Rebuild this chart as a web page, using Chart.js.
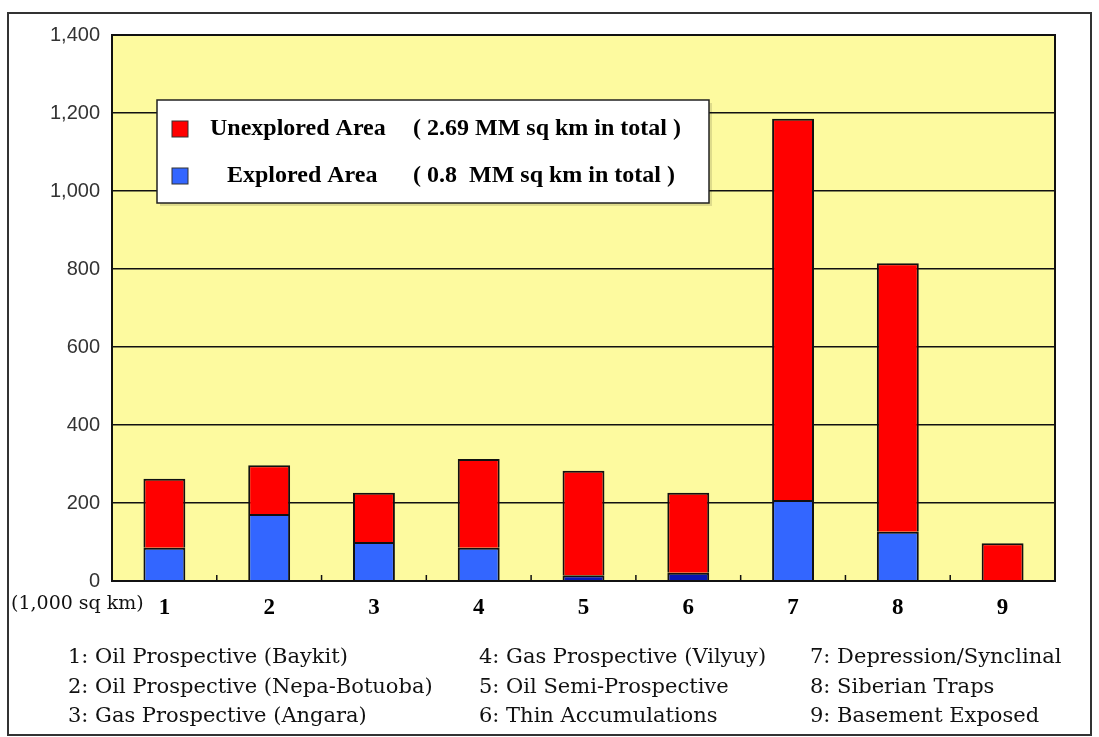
<!DOCTYPE html>
<html>
<head>
<meta charset="utf-8">
<script src="https://cdn.jsdelivr.net/npm/chart.js@4.4.1/dist/chart.umd.min.js"></script>
<style>
    html, body { margin: 0; padding: 0; background: #fff; }
    #wrap { position: relative; width: 1099px; height: 737px; }
    #frame { position: absolute; left: 7px; top: 12px; width: 1085px; height: 724px; border: 2px solid #333; box-sizing: border-box; }
    canvas { position: absolute; left: 0; top: 0; }
    .unit { position: absolute; left: 11px; top: 591px; font: 19px "DejaVu Serif", serif; color: #111; }
    .notes { position: absolute; top: 642px; font: 21px "DejaVu Serif", serif; line-height: 29.5px; color: #111; white-space: nowrap; }
</style>
</head>
<body>
<div id="wrap">
    <div id="frame"></div>
    <canvas id="chart" width="1099" height="737"></canvas>
    <div class="unit">(1,000 sq km)</div>
    <div id="notes"></div>
</div>
<script>
    // data
    const categories = ["1", "2", "3", "4", "5", "6", "7", "8", "9"];
    const explored = [85, 172, 100, 85, 15, 21, 208, 126, 0];
    const unexplored = [177, 125, 126, 228, 268, 205, 977, 689, 97];
    const yTicks = [0, 200, 400, 600, 800, 1000, 1200, 1400];

    const legendNames = ["Unexplored Area", "Explored Area"];
    const legendTotals = ["( 2.69 MM sq km in total )", "( 0.8  MM sq km in total )"];

    const noteColumns = [
        ["1: Oil Prospective (Baykit)", "2: Oil Prospective (Nepa-Botuoba)", "3: Gas Prospective (Angara)"],
        ["4: Gas Prospective (Vilyuy)", "5: Oil Semi-Prospective", "6: Thin Accumulations"],
        ["7: Depression/Synclinal", "8: Siberian Traps", "9: Basement Exposed"],
    ];
    const noteLeft = [68, 479, 810];

    const RED = "#ff0000";
    const BLUE = "#3366ff";
    const NAVY = "#0a14b4";
    const PLOT_BG = "#fdfa9f";

    // footer notes
    const notesEl = document.getElementById("notes");
    noteColumns.forEach((col, i) => {
        const div = document.createElement("div");
        div.className = "notes";
        div.style.left = noteLeft[i] + "px";
        div.innerHTML = col.join("<br>");
        notesEl.appendChild(div);
    });

    // plot background, frame, inner ticks and the boxed legend
    const decor = {
        id: "decor",
        beforeDraw(chart) {
            const { ctx, chartArea: a } = chart;
            ctx.save();
            ctx.fillStyle = PLOT_BG;
            ctx.fillRect(a.left, a.top, a.right - a.left, a.bottom - a.top);
            ctx.restore();
        },
        afterDraw(chart) {
            const { ctx, chartArea: a } = chart;
            const x = chart.scales.x;
            ctx.save();
            ctx.strokeStyle = "#111";
            ctx.lineWidth = 2;
            ctx.strokeRect(a.left, a.top, a.right - a.left, a.bottom - a.top);

            // small tick marks between categories, pointing up
            ctx.lineWidth = 1.5;
            for (let i = 0; i < categories.length - 1; i++) {
                const px = (x.getPixelForTick(i) + x.getPixelForTick(i + 1)) / 2;
                ctx.beginPath();
                ctx.moveTo(px, a.bottom);
                ctx.lineTo(px, a.bottom - 6);
                ctx.stroke();
            }

            // legend box
            const bx = a.left + 45, by = a.top + 65, bw = 552, bh = 103;
            ctx.fillStyle = "rgba(0,0,0,0.12)";
            ctx.fillRect(bx + 3, by + 3, bw, bh);
            ctx.fillStyle = "#fff";
            ctx.fillRect(bx, by, bw, bh);
            ctx.strokeStyle = "#222";
            ctx.lineWidth = 1.5;
            ctx.strokeRect(bx, by, bw, bh);

            const swatch = [RED, BLUE];
            const rowY = [by + 29, by + 76];
            const nameX = [bx + 53, bx + 70];
            ctx.font = "bold 24px 'Liberation Serif', serif";
            ctx.textBaseline = "middle";
            for (let i = 0; i < 2; i++) {
                ctx.fillStyle = swatch[i];
                ctx.fillRect(bx + 15, rowY[i] - 8, 16, 16);
                ctx.strokeStyle = "#333";
                ctx.lineWidth = 1;
                ctx.strokeRect(bx + 15, rowY[i] - 8, 16, 16);
                ctx.fillStyle = "#000";
                ctx.textAlign = "left";
                ctx.fillText(legendNames[i], nameX[i], rowY[i]);
                ctx.fillText(legendTotals[i], bx + 256, rowY[i]);
            }
            ctx.restore();
        },
    };

    new Chart(document.getElementById("chart"), {
        type: "bar",
        data: {
            labels: categories,
            datasets: [
                {
                    label: legendNames[1],
                    data: explored,
                    backgroundColor: explored.map((v) => (v < 30 ? NAVY : BLUE)),
                    borderColor: "#111",
                    borderWidth: 2,
                    borderSkipped: "bottom",
                },
                {
                    label: legendNames[0],
                    data: unexplored,
                    backgroundColor: RED,
                    borderColor: "#111",
                    borderWidth: 2,
                    borderSkipped: "bottom",
                },
            ],
        },
        options: {
            responsive: false,
            animation: false,
            layout: { padding: { left: 0, right: 44, top: 35, bottom: 0 } },
            datasets: { bar: { categoryPercentage: 1, barPercentage: 0.4 } },
            scales: {
                x: {
                    stacked: true,
                    grid: { display: false },
                    border: { display: false },
                    ticks: {
                        color: "#000",
                        padding: 5,
                        font: { family: "'Liberation Serif', serif", size: 23, weight: "bold" },
                    },
                    afterFit: (s) => { s.height = 156; },
                },
                y: {
                    stacked: true,
                    min: 0,
                    max: 1400,
                    afterBuildTicks: (s) => { s.ticks = yTicks.map((v) => ({ value: v })); },
                    grid: { color: "#111", lineWidth: 1.5, drawTicks: false },
                    border: { display: false },
                    ticks: {
                        color: "#333",
                        padding: 12,
                        font: { family: "'Liberation Sans', sans-serif", size: 20 },
                        callback: (v) => v.toLocaleString("en-US"),
                    },
                    afterFit: (s) => { s.width = 112; },
                },
            },
            plugins: {
                legend: { display: false },
                tooltip: { enabled: false },
            },
        },
        plugins: [decor],
    });
</script>
</body>
</html>
